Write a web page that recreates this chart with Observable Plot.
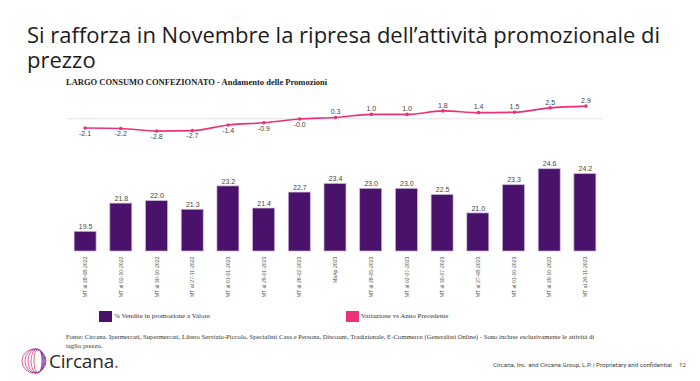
<!DOCTYPE html>
<html><head><meta charset="utf-8">
<script src="https://cdn.jsdelivr.net/npm/d3@7"></script>
<script src="https://cdn.jsdelivr.net/npm/@observablehq/plot@0.6"></script>
<style>
body{margin:0;background:#fff;}
#page{position:relative;width:700px;height:381px;overflow:hidden;background:#fff;font-family:"Liberation Sans",Arial,sans-serif;}
#title{position:absolute;left:27px;top:22px;width:670px;font-family:"Open Sans",sans-serif;font-size:22px;line-height:25px;color:#1c1c1c;}
#subtitle{position:absolute;left:66px;top:77px;font-family:"Liberation Serif",serif;font-weight:bold;font-size:8.5px;color:#222;white-space:nowrap;}
#top{position:absolute;left:0;top:90px;}
#bottom{position:absolute;left:0;top:145px;}
.leg{position:absolute;top:310px;height:12px;display:flex;align-items:center;font-family:"Liberation Serif",serif;font-size:7px;color:#333;white-space:nowrap;}
.sw{width:13px;height:11px;margin-right:2px;}
#foot{position:absolute;left:66px;top:332px;width:535px;font-family:"Liberation Serif",serif;font-size:6.7px;line-height:9px;color:#333;}
#logo{position:absolute;left:20px;top:348px;height:26px;display:flex;align-items:center;}
#logotxt{font-family:"Open Sans",sans-serif;font-size:19px;line-height:19px;color:#2a2a2a;margin-left:1px;letter-spacing:-0.2px;}
#conf{position:absolute;left:493px;top:361px;font-family:"Roboto",sans-serif;font-size:6.2px;color:#444;white-space:nowrap;}
#pg{position:absolute;left:679px;top:361px;font-family:"Roboto",sans-serif;font-size:6.2px;color:#444;}
</style></head><body>
<div id="page">
  <div id="title">Si rafforza in Novembre la ripresa dell’attività promozionale di prezzo</div>
  <div id="subtitle">LARGO CONSUMO CONFEZIONATO - Andamento delle Promozioni</div>
  <div id="top"></div>
  <div id="bottom"></div>
  <div class="leg" style="left:99px"><div class="sw" style="background:#4a126b"></div>% Vendite in promozione a Valore</div>
  <div class="leg" style="left:346px"><div class="sw" style="background:#ec3276"></div>Variazione vs Anno Precedente</div>
  <div id="foot">Fonte: Circana. Ipermercati, Supermercati, Libero Servizio-Piccolo, Specialisti Casa e Persona, Discount, Tradizionale, E-Commerce (Generalisti Online) - Sono incluse esclusivamente le attività di taglio prezzo.</div>
  <div id="logo">
    <svg width="28" height="26" viewBox="0 0 28 26">
      <defs><linearGradient id="lg" x1="0" x2="1" y1="0" y2="0"><stop offset="0" stop-color="#e8357a"/><stop offset="1" stop-color="#6b2a9a"/></linearGradient></defs>
      <g fill="none" stroke="url(#lg)" stroke-width="0.8">
        <ellipse cx="14" cy="13" rx="12" ry="12"/>
        <ellipse cx="15" cy="13" rx="10" ry="12"/>
        <ellipse cx="16" cy="13" rx="8" ry="12"/>
        <ellipse cx="17" cy="13" rx="6" ry="12"/>
        <ellipse cx="18" cy="13" rx="4" ry="12"/>
      </g>
    </svg>
    <span id="logotxt">Circana<span style="color:#e8357a">.</span></span>
  </div>
  <div id="conf">Circana, Inc. and Circana Group, L.P. | Proprietary and confidential</div>
  <div id="pg">12</div>
</div>
<script>
const periods = ["MT al 28-08-2022","MT al 02-10-2022","MT al 30-10-2022","MT al 27-11-2022","MT al 01-01-2023","MT al 29-01-2023","MT al 26-02-2023","MaAp 2023","MT al 28-05-2023","MT al 02-07-2023","MT al 30-07-2023","MT al 27-08-2023","MT al 01-10-2023","MT al 29-10-2023","MT al 26-11-2023"];
const promoShare = [19.5,21.8,22.0,21.3,23.2,21.4,22.7,23.4,23.0,23.0,22.5,21.0,23.3,24.6,24.2];
const yoyChange = [-2.1,-2.2,-2.8,-2.7,-1.4,-0.9,-0.04,0.3,1.0,1.0,1.8,1.4,1.5,2.5,2.9];

const PINK = "#ec3276";
const PURPLE = "#4a126b";
const yMin = 17.9;

const data = periods.map((p,i)=>({period:p, share:promoShare[i], yoy:yoyChange[i]}));

const lineChart = Plot.plot({
  width:700, height:55, marginLeft:67, marginRight:97, marginTop:0, marginBottom:0,
  style:{overflow:"visible", background:"transparent", fontFamily:"Liberation Sans, Arial, sans-serif"},
  x:{type:"point", domain:periods, padding:0.49, round:false, axis:null},
  y:{domain:[-6.08,6.45], axis:null},
  marks:[
    Plot.ruleY([0],{stroke:"#e3e3e3", strokeWidth:1}),
    Plot.line(data,{x:"period", y:"yoy", stroke:PINK, strokeWidth:1.6, curve:"monotone-x"}),
    Plot.dot(data,{x:"period", y:"yoy", r:1.8, fill:PINK}),
    Plot.text(data,{filter:d=>d.yoy>=0, x:"period", y:"yoy", text:d=>d.yoy.toFixed(1), dy:-5.5, fontSize:7, fill:"#444"}),
    Plot.text(data,{filter:d=>d.yoy<0, x:"period", y:"yoy", text:d=>d.yoy.toFixed(1), dy:5.5, fontSize:7, fill:"#444"})
  ]
});
document.getElementById("top").append(lineChart);

const barChart = Plot.plot({
  width:700, height:160, marginLeft:67, marginRight:97, marginTop:10, marginBottom:54,
  style:{overflow:"visible", background:"transparent", fontFamily:"Liberation Sans, Arial, sans-serif"},
  x:{type:"band", domain:periods, paddingInner:0.385, paddingOuter:0.2, round:false},
  y:{domain:[yMin, 25.72], axis:null},
  marks:[
    Plot.barY(data,{x:"period", y1:yMin, y2:"share", fill:PURPLE, stroke:"#c6b3d6", strokeWidth:0.7}),
    Plot.text(data,{x:"period", y:"share", text:d=>d.share.toFixed(1), dy:-5, fontSize:7, fill:"#444"}),
    Plot.axisX({tickRotate:-90, tickSize:0, tickPadding:5, fontSize:5.2, fill:"#555", label:null})
  ]
});
document.getElementById("bottom").append(barChart);
</script>
</body></html>
